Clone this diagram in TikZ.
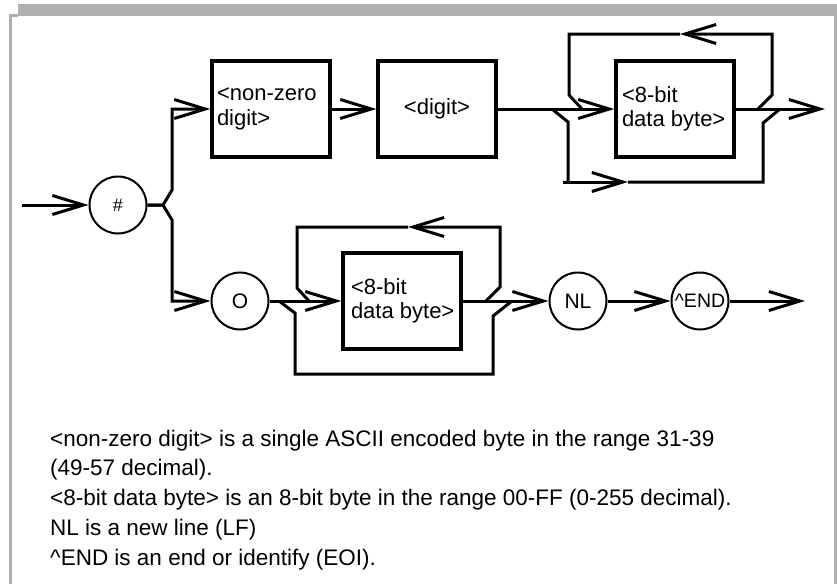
\documentclass[tikz,border=0pt]{standalone}
\usepackage{fontspec}
\setmainfont{Liberation Sans}
\usetikzlibrary{arrows.meta}
\definecolor{framegray}{RGB}{176,176,176}
\begin{document}
\begin{tikzpicture}[x=1pt,y=-1pt,
  conn/.style={line width=3pt},
  barb/.style={conn,-{Straight Barb[length=31pt,width=19pt,sharp]}},
  box/.style={draw,line width=3.3pt,minimum width=118pt,minimum height=96pt,inner xsep=5pt,inner ysep=0pt,font=\fontsize{22}{24.5}\selectfont},
  circ/.style={draw,circle,line width=2pt,minimum size=57pt,inner sep=0pt,font=\fontsize{21}{24}\selectfont}]
\useasboundingbox (0,0) rectangle (837,584);
% frame
\fill[framegray] (18,4) rectangle (837,16);
\fill[framegray] (9,14) rectangle (18,17);
\fill[framegray] (9,14) rectangle (12,584);
\fill[framegray] (834,16) rectangle (837,584);

% nodes
\node[circ,font=\fontsize{18}{20}\selectfont] (hash) at (118,205) {\#};
\node[box] (b1) at (271,109) {\raisebox{9pt}{\parbox{108pt}{\raggedright \mbox{<non-zero}\\\mbox{digit>}}}};
\node[box] (b2) at (437,109) {<digit>};
\node[box] (b3) at (675,109) {\raisebox{-2pt}{\parbox{106pt}{\raggedright \mbox{<8-bit}\\\mbox{data byte>}}}};
\node[circ] (O) at (240,301) {O};
\node[box,inner xsep=8pt] (b4) at (402,301) {\parbox{102pt}{\raggedright \mbox{<8-bit}\\\mbox{data byte>}}};
\node[circ] (NL) at (578,301) {NL};
\node[circ,font=\fontsize{19.5}{22}\selectfont] (END) at (700,301) {\textasciicircum END};

\coordinate (start) at (22,205);
\coordinate (out1) at (825,109);
\coordinate (out2) at (805,301);

% top row
\draw[barb] (start) -- (hash.west);
\draw[barb] (hash.east) -- (163,205) -- (172,190) -- (172,109) -- (b1.west);
\draw[barb] (hash.east) -- (163,205) -- (172,220) -- (172,301) -- (O.west);
\draw[barb] (b1.east) -- (b2.west);
\draw[barb] (b2.east) -- (b3.west);
\draw[barb] (b3.east) -- (out1);
% top repeat loop
\draw[barb] (758,109) -- (772,95) -- (772,34) -- (680,34);
\draw[conn] (680,34) -- (569,34) -- (569,95) -- (582,109);
% top bypass
\draw[conn] (552,109) -- (568,122) -- (568,182);
\draw[barb] (563,182) -- (628,182);
\draw[conn] (628,182) -- (763,182) -- (763,123) -- (780,109);

% bottom row
\draw[barb] (O.east) -- (b4.west);
\draw[barb] (b4.east) -- (NL.west);
\draw[barb] (NL.east) -- (END.west);
\draw[barb] (END.east) -- (out2);
% bottom repeat loop
\draw[barb] (486,301) -- (500,287) -- (500,227) -- (408,227);
\draw[conn] (408,227) -- (297,227) -- (297,288) -- (309,301);
% bottom bypass
\draw[conn] (279,301) -- (295,313) -- (295,374) -- (493,374) -- (493,316) -- (512,301);

% notes
\node[anchor=base west,inner sep=0pt,font=\fontsize{22.5}{29.75}\selectfont] (notes) at (50,446)
  {\parbox[t]{780pt}{\raggedright <non-zero digit> is a single ASCII encoded byte in the range 31-39\\
  (49-57 decimal).\\
  <8-bit data byte> is an 8-bit byte in the range 00-FF (0-255 decimal).\\
  NL is a new line (LF)\\
  \textasciicircum END is an end or identify (EOI).}};
\end{tikzpicture}
\end{document}
